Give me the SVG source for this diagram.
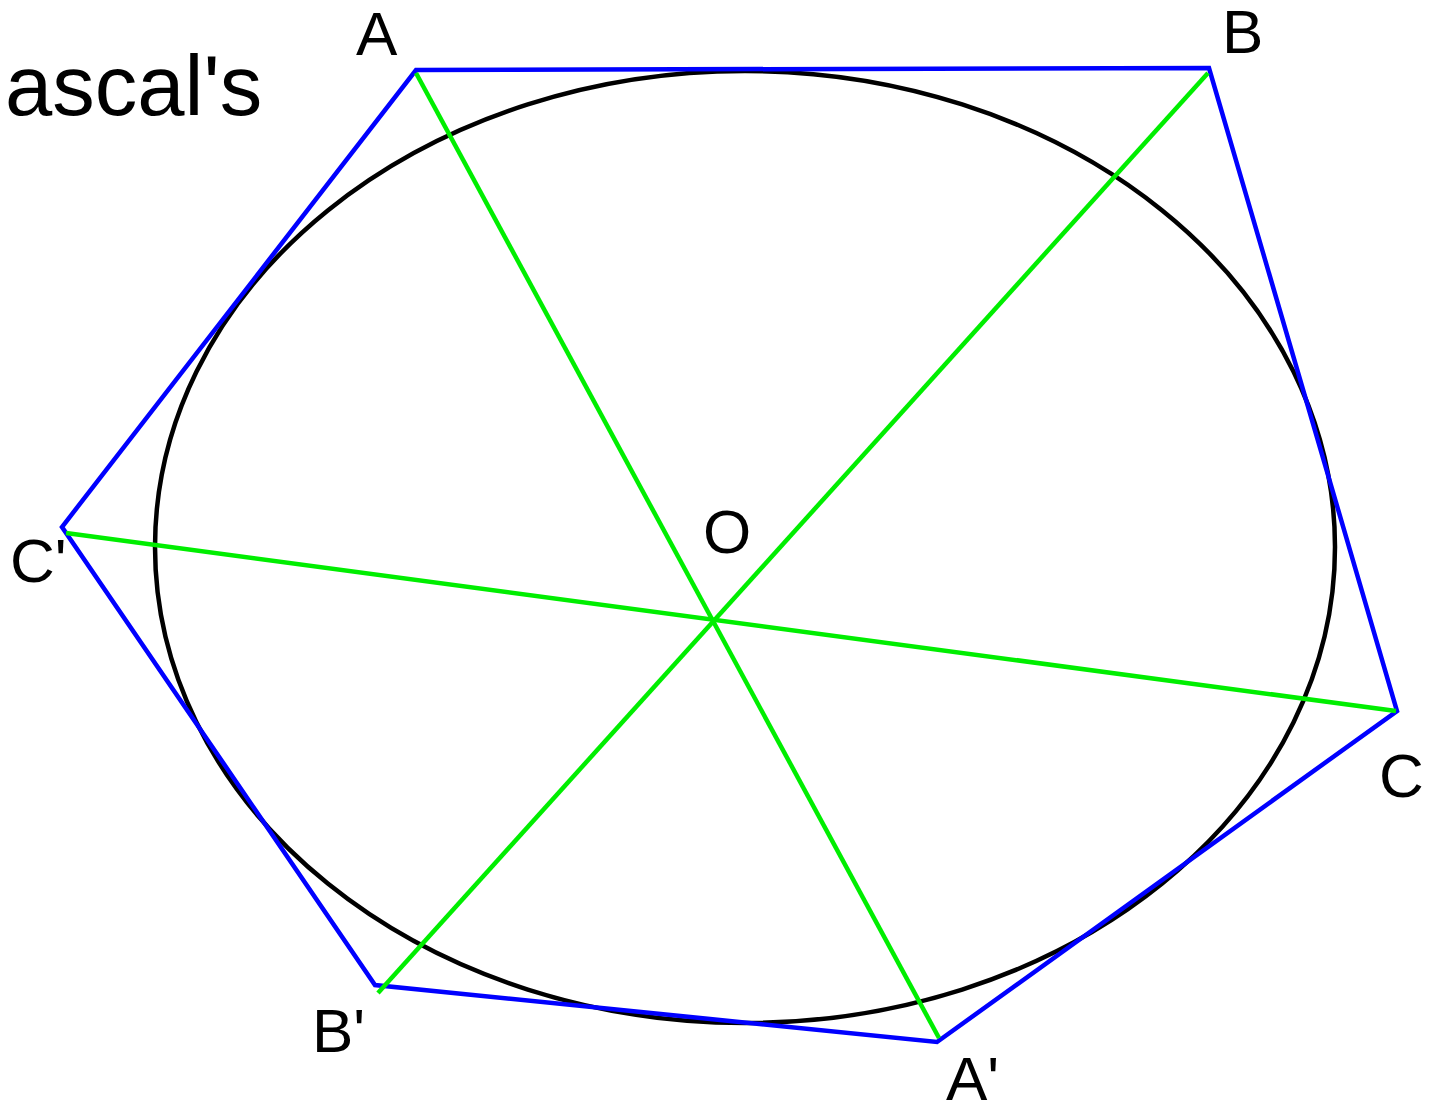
<svg xmlns="http://www.w3.org/2000/svg" width="1434" height="1103" viewBox="0 0 1434 1103">
<style>
text{font-family:"Liberation Sans",Arial,sans-serif;fill:#000}
.lbl{font-size:62px}
.blue{fill:none;stroke:#0000ff;stroke-width:4.5;stroke-linejoin:miter}
.green{stroke:#00ee00;stroke-width:4.5}
</style>
<rect width="1434" height="1103" fill="#fff"/>
<text x="5" y="115" style="font-size:85px">ascal's</text>
<g id="ellipse"><ellipse cx="745" cy="547" rx="590" ry="476" fill="none" stroke="#000" stroke-width="4.5"/></g>
<g id="connectors">
<polygon class="blue" points="416,70 1209,68 1397,711 937,1042 375,985 62,527"/>
<line class="green" x1="416" y1="73" x2="939" y2="1038"/>
<line class="green" x1="1208" y1="73" x2="378" y2="993"/>
<line class="green" x1="66" y1="533" x2="1396" y2="711"/>
</g>
<g id="node-A"><text class="lbl" x="356" y="55">A</text></g>
<g id="node-B"><text class="lbl" x="1222" y="53">B</text></g>
<g id="node-C"><text class="lbl" x="1379" y="797">C</text></g>
<g id="node-A2"><text class="lbl" x="946" y="1100">A'</text></g>
<g id="node-B2"><text class="lbl" x="312" y="1052">B'</text></g>
<g id="node-C2"><text class="lbl" x="10" y="582">C'</text></g>
<g id="node-O"><text class="lbl" x="703" y="553">O</text></g>
</svg>
